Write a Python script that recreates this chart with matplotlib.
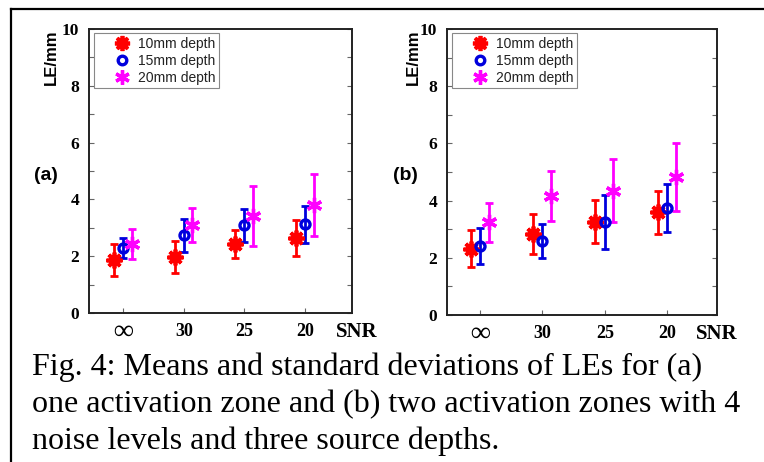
import matplotlib
matplotlib.use("Agg")
import matplotlib.pyplot as plt
import numpy as np
from matplotlib.lines import Line2D

categories = ["\u221e", "30", "25", "20"]
depths = ["10mm depth", "15mm depth", "20mm depth"]

# panel (a): one activation zone
a_mean_10 = [1.88, 1.96, 2.44, 2.63]
a_std_10 = [0.56, 0.56, 0.50, 0.64]
a_mean_15 = [2.28, 2.73, 3.09, 3.12]
a_std_15 = [0.35, 0.58, 0.58, 0.65]
a_mean_20 = [2.42, 3.09, 3.42, 3.80]
a_std_20 = [0.53, 0.60, 1.05, 1.10]

# panel (b): two activation zones
b_mean_10 = [2.32, 2.82, 3.26, 3.59]
b_std_10 = [0.65, 0.70, 0.75, 0.75]
b_mean_15 = [2.41, 2.59, 3.26, 3.73]
b_std_15 = [0.62, 0.58, 0.95, 0.84]
b_mean_20 = [3.24, 4.15, 4.35, 4.82]
b_std_20 = [0.68, 0.87, 1.10, 1.20]

caption_lines = ["Fig. 4: Means and standard deviations of LEs for (a)",
                 "one activation zone and (b) two activation zones with 4",
                 "noise levels and three source depths."]

W, H = 764, 462
fig = plt.figure(figsize=(W / 100, H / 100), dpi=100)

colors = ["#ff0000", "#0000dd", "#ff00ff"]
markers = [(8, 2, 0), "o", (6, 2, 0)]
msizes = [11.5, 6.5, 11]
mews = [2.7, 2.4, 2.4]
offsets = [-0.15, 0.0, 0.14]

serif = "Liberation Serif"
sans = "Liberation Sans"


def px_rect(l, r, t, b):
    return [l / W, 1 - b / H, (r - l) / W, (b - t) / H]


def draw_panel(rect, means, stds, label_xy, ylab_xy, xlim, snr_x):
    ax = fig.add_axes(rect)
    axh_px = rect[3] * H
    x = np.arange(1, len(categories) + 1)
    handles = []
    for i in range(3):
        ax.errorbar(x + offsets[i], means[i], yerr=stds[i], fmt="none",
                    ecolor=colors[i], elinewidth=2.0, capsize=2.6, capthick=2.0, zorder=2)
        ax.plot(x + offsets[i], means[i], linestyle="none", marker=markers[i],
                markersize=msizes[i], markeredgewidth=mews[i],
                markeredgecolor=colors[i],
                markerfacecolor="none" if markers[i] == "o" else colors[i], zorder=3)
        handles.append(Line2D([], [], linestyle="none", marker=markers[i],
                              markersize=msizes[i] * 0.95, markeredgewidth=mews[i],
                              markeredgecolor=colors[i],
                              markerfacecolor="none" if markers[i] == "o" else colors[i]))
    ax.set_xlim(*xlim)
    ax.set_ylim(0, 10)
    ax.set_xticks(x)
    ax.set_xticklabels([])
    ylab = -19 / axh_px
    for xi, c in zip(x, categories):
        fs = 20 if c == "\u221e" else 13
        ax.text(xi, ylab, c, ha="center", va="center", fontsize=fs,
                fontweight="bold", family=serif, transform=ax.get_xaxis_transform())
    ax.text(snr_x, ylab, "SNR", ha="center", va="center", fontsize=15,
            fontweight="bold", family=serif, transform=ax.get_xaxis_transform())
    ax.set_yticks(np.arange(0, 11, 1))
    ax.set_yticklabels([str(v) if v % 2 == 0 else "" for v in range(0, 11)],
                       fontsize=12.5, fontweight="bold", family=serif)
    ax.tick_params(axis="y", direction="in", length=3.5, width=0.8, color="#666666",
                   right=True, pad=7)
    ax.tick_params(axis="x", direction="in", length=3.5, width=0.8, color="#666666")
    for s in ax.spines.values():
        s.set_linewidth(1.4)
        s.set_color("#222222")
    leg = ax.legend(handles, depths, loc="upper left", bbox_to_anchor=(0.01, 0.995),
                    prop={"family": sans, "size": 10}, frameon=True, fancybox=False,
                    edgecolor="#888888", framealpha=1, handlelength=3.5,
                    handletextpad=-0.6, borderpad=0.25, labelspacing=0.22,
                    borderaxespad=0.2)
    leg.get_frame().set_linewidth(0.8)
    for t in leg.get_texts():
        t.set_color("#222222")
    fig.text(label_xy[0] / W, 1 - label_xy[1] / H, label_xy[2], ha="center", va="center",
             fontsize=14, fontweight="bold", family=sans)
    fig.text(ylab_xy[0] / W, 1 - ylab_xy[1] / H, "LE/mm", ha="center", va="center",
             rotation=90, fontsize=12, fontweight="bold", family=sans)
    return ax


axA = draw_panel(px_rect(89, 352, 29, 313),
                 [a_mean_10, a_mean_15, a_mean_20], [a_std_10, a_std_15, a_std_20],
                 (46, 176, "(a)"), (51, 57), (0.44, 4.77), 4.85)
axB = draw_panel(px_rect(447, 717, 29, 315),
                 [b_mean_10, b_mean_15, b_mean_20], [b_std_10, b_std_15, b_std_20],
                 (405, 176, "(b)"), (413, 57), (0.47, 4.8), 4.8)

# caption
for k, line in enumerate(caption_lines):
    fig.text(32 / W, 1 - (375 + 37 * k) / H, line, ha="left", va="baseline",
             fontsize=23, family=serif)

# frame lines
fig.add_artist(Line2D([11 / W, 11 / W], [0, 1 - 9 / H], color="black", lw=1.6,
                      transform=fig.transFigure))
fig.add_artist(Line2D([11 / W, 1], [1 - 9 / H, 1 - 9 / H], color="black", lw=1.6,
                      transform=fig.transFigure))

fig.savefig("out.png", dpi=100)
